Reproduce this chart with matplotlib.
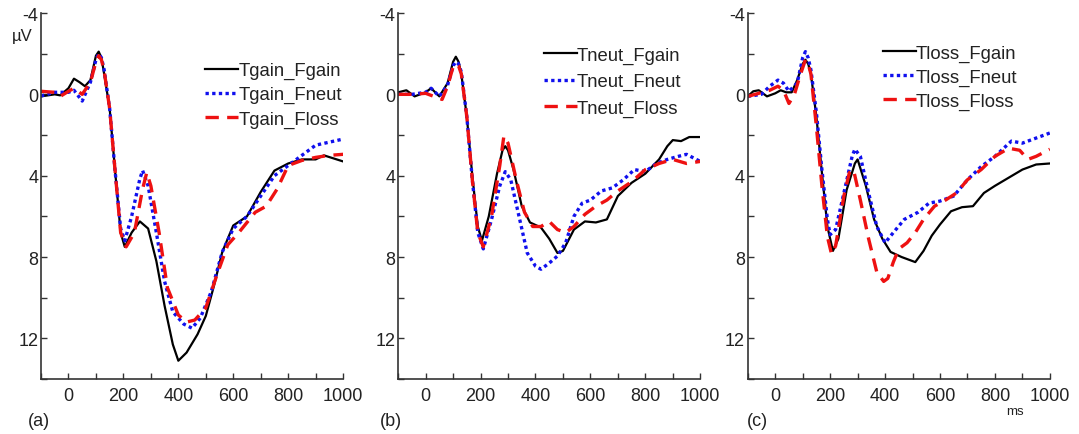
import numpy as np
import matplotlib
matplotlib.use("Agg")
from matplotlib import pyplot as plt
from matplotlib.ticker import MultipleLocator

plt.rcParams['font.family'] = ['Liberation Sans', 'DejaVu Sans']
plt.rcParams['axes.unicode_minus'] = False

# (a) Tgain
ta_gain = [-100, -50, -30, 0, 20, 40, 60, 80, 100, 110, 120, 130, 150, 170, 190, 205, 230, 260, 290, 320, 350, 380, 400,
           430, 470, 500, 530, 560, 600, 650, 700, 750, 800, 850, 900, 930, 1000]
va_gain = [0.1, 0.0, 0.05, -0.3, -0.77, -0.6, -0.4, -0.7, -1.9, -2.1, -1.8, -1.0, 0.7, 3.8, 6.8, 7.5, 6.8, 6.25, 6.6, 8.2, 10.4, 12.3, 13.1,
           12.7, 11.8, 10.9, 9.4, 7.75, 6.45, 6.0, 4.8, 3.75, 3.4, 3.2, 3.2, 3.0, 3.3]
ta_neut = [-100, -50, 0, 20, 50, 80, 100, 110, 120, 130, 150, 170, 190, 205, 230, 260, 270, 290, 320, 350, 380, 420,
           450, 480, 520, 560, 600, 650, 700, 750, 800, 850, 900, 950, 1000]
va_neut = [0.08, -0.1, -0.1, -0.2, 0.33, -0.6, -1.7, -2.0, -1.8, -1.2, 0.7, 3.8, 6.6, 7.2, 6.0, 4.15, 3.75, 4.5, 6.8, 9.2, 10.7, 11.3,
           11.5, 11.0, 9.7, 7.75, 6.6, 6.0, 5.0, 4.0, 3.5, 3.0, 2.5, 2.35, 2.2]
ta_loss = [-100, -50, -30, 0, 20, 50, 80, 100, 110, 120, 130, 150, 170, 190, 210, 240, 270, 285, 300, 330, 360, 400,
           430, 460, 500, 540, 580, 620, 680, 720, 760, 800, 850, 900, 950, 1000]
va_loss = [-0.15, -0.1, 0.1, -0.15, -0.3, 0.0, -0.6, -1.6, -1.9, -1.7, -1.15, 0.7, 3.8, 6.8, 7.5, 6.8, 4.65, 3.85, 4.5, 6.8, 9.5, 10.85,
           11.2, 11.1, 10.5, 8.9, 7.4, 6.8, 5.8, 5.5, 4.65, 3.5, 3.25, 3.1, 3.0, 2.95]

# (b) Tneut
tb_gain = [-100, -70, -40, 0, 20, 50, 80, 100, 110, 120, 130, 150, 170, 190, 205, 230, 260, 280, 290, 300, 320, 350, 380, 420,
           450, 480, 500, 540, 580, 620, 660, 700, 750, 800, 850, 880, 900, 930, 960, 1000]
vb_gain = [-0.1, -0.2, 0.1, -0.1, -0.3, 0.1, -0.55, -1.6, -1.85, -1.6, -1.0, 1.1, 4.0, 6.5, 7.2, 6.0, 3.9, 2.75, 2.55, 2.75, 3.7, 5.5, 6.3, 6.55,
           7.1, 7.8, 7.7, 6.65, 6.25, 6.3, 6.15, 5.0, 4.35, 3.9, 3.2, 2.55, 2.25, 2.3, 2.1, 2.1]
tb_neut = [-100, -50, 0, 20, 50, 80, 100, 110, 120, 130, 150, 170, 190, 210, 240, 270, 290, 310, 340, 370, 400, 420,
           450, 480, 510, 540, 570, 600, 640, 680, 720, 760, 800, 840, 880, 920, 950, 1000]
vb_neut = [0.0, 0.0, -0.1, -0.3, 0.1, -0.45, -1.4, -1.6, -1.5, -1.1, 1.1, 4.2, 6.8, 7.6, 6.15, 4.5, 3.8, 4.2, 6.0, 7.8, 8.45, 8.6,
           8.3, 7.95, 7.3, 6.0, 5.35, 5.2, 4.75, 4.6, 4.2, 3.7, 3.8, 3.4, 3.2, 3.05, 2.95, 3.3]
tb_loss = [-100, -50, 0, 30, 60, 80, 100, 110, 120, 130, 150, 170, 190, 210, 240, 270, 285, 300, 330, 360, 390, 420,
           450, 480, 510, 540, 580, 620, 660, 700, 750, 800, 850, 900, 950, 1000]
vb_loss = [0.0, 0.0, -0.05, 0.1, 0.25, -0.4, -1.35, -1.5, -1.4, -1.0, 1.1, 4.2, 6.8, 7.5, 6.0, 3.5, 2.05, 2.4, 4.2, 5.8, 6.5, 6.5,
           6.25, 6.65, 6.8, 6.5, 5.9, 5.5, 5.2, 4.75, 4.3, 3.7, 3.4, 3.2, 3.4, 3.3]

# (c) Tloss
tc_gain = [-100, -80, -60, -30, 0, 20, 40, 60, 80, 100, 110, 120, 130, 150, 170, 190, 210, 230, 260, 290, 300, 330,
           360, 390, 420, 460, 510, 540, 570, 600, 640, 680, 720, 760, 800, 850, 900, 950, 1000]
vc_gain = [0.1, -0.15, -0.2, 0.1, -0.05, -0.2, -0.1, -0.1, -0.7, -1.5, -1.7, -1.5, -1.0, 1.1, 3.85, 6.5, 7.7, 7.1, 4.7, 3.4, 3.2, 4.5,
           6.15, 7.1, 7.75, 8.0, 8.25, 7.7, 6.95, 6.4, 5.75, 5.55, 5.5, 4.85, 4.5, 4.1, 3.7, 3.45, 3.4]
tc_neut = [-100, -50, -20, 10, 30, 50, 80, 100, 110, 120, 130, 150, 170, 190, 200, 220, 250, 280, 290, 310, 340, 370,
           400, 430, 470, 520, 560, 600, 650, 700, 750, 800, 860, 900, 950, 1000]
vc_neut = [0.1, 0.0, -0.4, -0.7, -0.55, -0.15, -0.55, -1.8, -2.1, -1.8, -1.2, 0.9, 3.7, 6.15, 6.9, 6.65, 4.85, 3.05, 2.7, 3.05, 4.85, 6.5,
           7.3, 6.8, 6.15, 5.8, 5.35, 5.25, 5.0, 4.2, 3.55, 3.05, 2.3, 2.4, 2.15, 1.9]
tc_loss = [-100, -60, -20, 10, 30, 50, 70, 90, 110, 120, 130, 150, 170, 190, 205, 220, 250, 270, 285, 310, 340,
           370, 395, 410, 430, 450, 480, 510, 540, 580, 620, 660, 700, 750, 800, 850, 890, 920, 950, 1000]
vc_loss = [0.1, -0.05, -0.2, -0.4, -0.2, 0.45, 0.0, -0.9, -1.7, -1.5, -1.0, 1.6, 4.5, 7.0, 7.85, 7.45, 5.0, 3.85, 3.7, 5.2, 7.1,
           8.75, 9.2, 9.05, 8.25, 7.6, 7.3, 6.8, 6.15, 5.5, 5.2, 4.85, 4.2, 3.7, 3.05, 2.65, 2.75, 3.2, 3.05, 2.7]

panels = [
    ("(a)", "Tgain", [(ta_gain, va_gain), (ta_neut, va_neut), (ta_loss, va_loss)]),
    ("(b)", "Tneut", [(tb_gain, vb_gain), (tb_neut, vb_neut), (tb_loss, vb_loss)]),
    ("(c)", "Tloss", [(tc_gain, vc_gain), (tc_neut, vc_neut), (tc_loss, vc_loss)]),
]
suffixes = ["_Fgain", "_Fneut", "_Floss"]

lefts = [0.038, 0.369, 0.693]
tag_x = [0.026, 0.352, 0.692]
leg_anchor = [(0.543, 0.866), (0.482, 0.908), (0.447, 0.913)]
leg_space = [0.38, 0.5, 0.36]

fig = plt.figure(figsize=(10.79, 4.35), dpi=100)

for i, (tag, prefix, series) in enumerate(panels):
    ax = fig.add_axes([lefts[i], 0.1264, 0.280, 0.8414])
    (t1, v1), (t2, v2), (t3, v3) = series
    ax.plot(t1, v1, color="black", lw=1.6, label=prefix + suffixes[0])
    ax.plot(t2, v2, color="#1010ee", lw=2.4, linestyle=(0, (1, 1)), label=prefix + suffixes[1])
    ax.plot(t3, v3, color="#ee1111", lw=2.4, linestyle=(0, (4, 2.5)), label=prefix + suffixes[2])

    ax.set_xlim(-100, 1000)
    ax.set_ylim(14, -4)
    ax.xaxis.set_minor_locator(MultipleLocator(100))
    ax.yaxis.set_minor_locator(MultipleLocator(2))
    ax.set_xticks([0, 200, 400, 600, 800, 1000])
    ax.set_yticks([-4, 0, 4, 8, 12])
    ax.tick_params(which="both", direction="in", length=4, width=1, colors="#333333",
                   labelsize=13, labelcolor="#222222")
    ax.tick_params(axis="x", pad=6)
    ax.tick_params(axis="y", pad=2)
    for s in ["top", "right"]:
        ax.spines[s].set_visible(False)
    for s in ["left", "bottom"]:
        ax.spines[s].set_color("#333333")
        ax.spines[s].set_linewidth(1.2)

    leg = ax.legend(loc="upper left", bbox_to_anchor=leg_anchor[i], frameon=False,
                    fontsize=13.3, handlelength=1.8, handletextpad=0.0,
                    labelspacing=leg_space[i], borderpad=0, borderaxespad=0)
    for txt in leg.get_texts():
        txt.set_color("#222222")

    fig.text(tag_x[i], 0.03, tag, fontsize=13, color="#222222", ha="left", va="center")

fig.text(0.011, 0.915, "µV", fontsize=12, color="#222222", ha="left", va="center")
fig.text(0.941, 0.053, "ms", fontsize=9.5, color="#222222", ha="center", va="center")

fig.savefig("out.png", dpi=100)
